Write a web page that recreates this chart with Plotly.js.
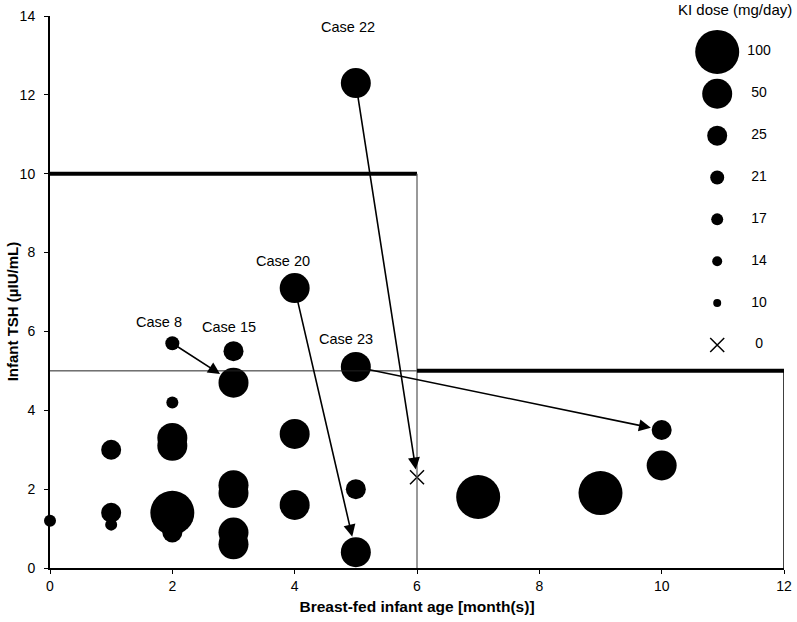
<!DOCTYPE html>
<html>
<head>
<meta charset="utf-8">
<script src="https://cdn.plot.ly/plotly-3.0.1.min.js"></script>
<style>html,body{margin:0;padding:0;background:#fff;}#chart{width:797px;height:622px;}</style>
</head>
<body>
<div id="chart"></div>
<script>
// ---- data ----
const ageMonths = [0, 1, 1, 1, 2, 2, 2, 2, 2, 2, 3, 3, 3, 3, 3, 3, 4, 4, 4, 5, 5, 5, 5, 6, 7, 9, 10, 10];
const infantTSH = [1.2, 3.0, 1.4, 1.1, 5.7, 4.2, 3.3, 3.1, 1.4, 0.9, 5.5, 4.7, 2.1, 1.9, 0.9, 0.6, 7.1, 3.4, 1.6, 12.3, 5.1, 2.0, 0.4, 2.3, 1.8, 1.9, 3.5, 2.6];
const kiDose = [17, 25, 25, 17, 21, 17, 50, 50, 100, 25, 25, 50, 50, 50, 50, 50, 50, 50, 50, 50, 50, 25, 50, 0, 100, 100, 25, 50];

// case labels: name and index of the point they belong to
const caseNames = ['Case 8', 'Case 15', 'Case 20', 'Case 22', 'Case 23'];
const casePoint = [4, 10, 16, 19, 20];
// arrows: from point index -> to point index
const arrowFrom = [4, 19, 16, 20];
const arrowTo = [11, 23, 22, 26];

// legend
const legendDoses = [100, 50, 25, 21, 17, 14, 10, 0];
const legendTitle = 'KI dose (mg/day)';
const xTitle = 'Breast-fed infant age [month(s)]';
const yTitle = 'Infant TSH (µIU/mL)';

// ---- styles ----
const doseDiameter = {100: 44, 50: 30, 25: 20, 21: 14, 17: 12, 14: 10, 10: 8, 0: 14};
const FONT = 'Arial, "Liberation Sans", sans-serif';

function markerFor(doses) {
  return {
    size: doses.map(d => doseDiameter[d]),
    symbol: doses.map(d => d === 0 ? 'x-thin-open' : 'circle'),
    color: '#000',
    opacity: 1,
    line: {color: '#000', width: doses.map(d => d === 0 ? 1.5 : 0)}
  };
}

const traces = [
  {
    type: 'scatter', mode: 'markers',
    x: ageMonths, y: infantTSH,
    marker: markerFor(kiDose),
    cliponaxis: false, hoverinfo: 'x+y', showlegend: false
  },
  {
    type: 'scatter', mode: 'markers',
    x: legendDoses.map(() => 0), y: legendDoses.map(String),
    xaxis: 'x2', yaxis: 'y2',
    marker: markerFor(legendDoses),
    cliponaxis: false, hoverinfo: 'skip', showlegend: false
  },
  {
    type: 'scatter', mode: 'text',
    x: legendDoses.map(() => 1), y: legendDoses.map(String),
    text: legendDoses.map(String),
    xaxis: 'x2', yaxis: 'y2',
    textposition: 'middle center',
    textfont: {family: FONT, size: 14, color: '#000'},
    cliponaxis: false, hoverinfo: 'skip', showlegend: false
  }
];

const labelShift = {'Case 8': [-13, 21], 'Case 15': [-5, 24], 'Case 20': [-12, 27], 'Case 22': [-8, 56], 'Case 23': [-10, 28]};
const annotations = [];
caseNames.forEach((name, i) => {
  const p = casePoint[i];
  annotations.push({
    x: ageMonths[p], y: infantTSH[p], xref: 'x', yref: 'y',
    text: name, showarrow: false,
    xshift: labelShift[name][0], yshift: labelShift[name][1],
    font: {family: FONT, size: 14.5, color: '#000'}
  });
});
arrowFrom.forEach((from, i) => {
  const to = arrowTo[i];
  annotations.push({
    x: ageMonths[to], y: infantTSH[to], xref: 'x', yref: 'y',
    ax: ageMonths[from], ay: infantTSH[from], axref: 'x', ayref: 'y',
    text: '', showarrow: true, arrowhead: 2, arrowsize: 1.5, arrowwidth: 1.6,
    arrowcolor: '#000', standoff: doseDiameter[kiDose[to]] / 2 + 1
  });
});
annotations.push({
  x: 0.933, y: 1.011, xref: 'paper', yref: 'paper', xanchor: 'center', yanchor: 'middle',
  text: legendTitle, showarrow: false,
  font: {family: FONT, size: 15, color: '#000'}
});
annotations.push({
  x: -0.0518, y: 0.465, xref: 'paper', yref: 'paper', xanchor: 'center', yanchor: 'middle',
  text: '<b>' + yTitle + '</b>', textangle: -90, showarrow: false,
  font: {family: FONT, size: 15, color: '#000'}
});

const shapes = [
  // thick upper limit for 0-6 months
  {type: 'line', xref: 'x', yref: 'y', x0: 0, x1: 6, y0: 10, y1: 10, line: {color: '#000', width: 4}},
  // thin reference line at 5
  {type: 'line', xref: 'x', yref: 'y', x0: 0, x1: 6, y0: 5, y1: 5, line: {color: '#222', width: 1}},
  // vertical at 6 months
  {type: 'line', xref: 'x', yref: 'y', x0: 6, x1: 6, y0: 0, y1: 10, line: {color: '#555', width: 1.2}},
  // thick upper limit beyond 6 months
  {type: 'line', xref: 'x', yref: 'y', x0: 6, x1: 12, y0: 5, y1: 5, line: {color: '#000', width: 4}},
  // right border
  {type: 'line', xref: 'x', yref: 'y', x0: 12, x1: 12, y0: 0, y1: 5, line: {color: '#000', width: 1.5}}
];

const layout = {
  width: 797, height: 622,
  margin: {l: 50, r: 13, t: 16, b: 54},
  paper_bgcolor: '#fff', plot_bgcolor: '#fff',
  font: {family: FONT, size: 14, color: '#000'},
  showlegend: false,
  xaxis: {
    range: [0, 12], dtick: 2, tick0: 0,
    showgrid: false, zeroline: false,
    showline: true, linewidth: 2, linecolor: '#000',
    ticks: 'outside', ticklen: 4, tickwidth: 1, tickcolor: '#000',
    tickfont: {family: FONT, size: 14},
    title: {text: '<b>' + xTitle + '</b>', font: {family: FONT, size: 15.5}, standoff: 8}
  },
  yaxis: {
    range: [0, 14], dtick: 2, tick0: 0,
    showgrid: false, zeroline: false,
    showline: true, linewidth: 2, linecolor: '#000',
    ticks: 'outside', ticklen: 4, tickwidth: 1, tickcolor: '#000',
    ticklabelstandoff: 6,
    tickfont: {family: FONT, size: 14}
  },
  xaxis2: {domain: [0.909, 0.966], range: [0, 1], anchor: 'y2', visible: false, fixedrange: true},
  yaxis2: {domain: [0.404, 0.935], type: 'category', categoryorder: 'array',
           categoryarray: legendDoses.map(String), range: [7, 0], autorange: false,
           anchor: 'x2', visible: false, fixedrange: true},
  shapes: shapes,
  annotations: annotations
};

Plotly.newPlot('chart', traces, layout, {displayModeBar: false, staticPlot: true});
</script>
</body>
</html>
